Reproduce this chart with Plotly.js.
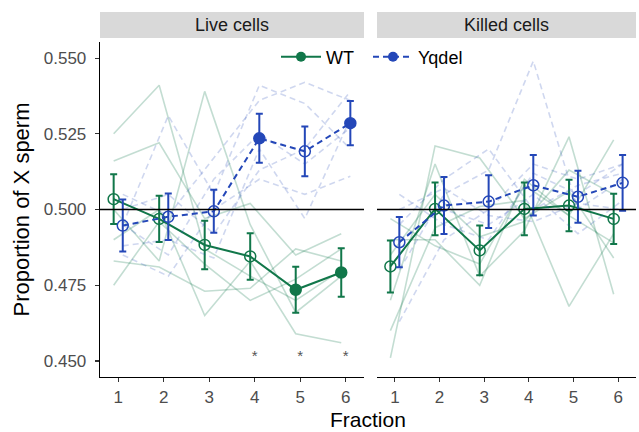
<!DOCTYPE html>
<html>
<head>
<meta charset="utf-8">
<script src="https://cdn.plot.ly/plotly-3.0.1.min.js"></script>
<style>html,body{margin:0;padding:0;background:#fff;}#chart{width:639px;height:432px;}</style>
</head>
<body>
<div id="chart"></div>
<script>
// ---- data ----
const fractions = [1, 2, 3, 4, 5, 6];
const panels = ["Live cells", "Killed cells"];
const genotypes = ["WT", "Yqdel"];

// Means and standard errors
const wtLiveMean = [0.5034, 0.4969, 0.4883, 0.4845, 0.4735, 0.4792];
const wtLiveSE = [0.0082, 0.0076, 0.0080, 0.0077, 0.0076, 0.0080];
const yqLiveMean = [0.4947, 0.4976, 0.4994, 0.5235, 0.5192, 0.5285];
const yqLiveSE = [0.0086, 0.0077, 0.0071, 0.0081, 0.0082, 0.0073];
const wtKilledMean = [0.4812, 0.5002, 0.4865, 0.5002, 0.5013, 0.4969];
const wtKilledSE = [0.0086, 0.0087, 0.0082, 0.0087, 0.0085, 0.0083];
const yqKilledMean = [0.4892, 0.5013, 0.5026, 0.5080, 0.5042, 0.5088];
const yqKilledSE = [0.0083, 0.0094, 0.0087, 0.0100, 0.0086, 0.0092];

// Significant (filled) points
const wtLiveSig = [false, false, false, false, true, true];
const yqLiveSig = [false, false, false, true, false, true];
const wtKilledSig = [false, false, false, false, false, false];
const yqKilledSig = [false, false, false, false, false, false];

// Star annotations (live panel)
const starFractions = [4, 5, 6];
const starLevel = 0.4513;

// Individual replicate lines
const wtLiveReps = [
  [0.525, 0.541, 0.487, 0.478, 0.470, 0.480],
  [0.500, 0.483, 0.539, 0.495, 0.466, 0.478],
  [0.516, 0.522, 0.497, 0.502, 0.485, 0.492],
  [0.483, 0.481, 0.473, 0.474, 0.487, 0.483],
  [0.490, 0.500, 0.465, 0.483, 0.459, 0.456],
  [0.475, 0.496, 0.482, 0.470, 0.477, 0.487]
];
const yqLiveReps = [
  [0.495, 0.531, 0.505, 0.541, 0.535, 0.520],
  [0.505, 0.498, 0.517, 0.536, 0.542, 0.536],
  [0.488, 0.490, 0.484, 0.520, 0.497, 0.530],
  [0.500, 0.505, 0.492, 0.513, 0.520, 0.539],
  [0.485, 0.478, 0.500, 0.510, 0.505, 0.511],
  [0.495, 0.485, 0.510, 0.525, 0.515, 0.527]
];
const wtKilledReps = [
  [0.451, 0.521, 0.517, 0.497, 0.506, 0.484],
  [0.470, 0.515, 0.478, 0.493, 0.524, 0.472],
  [0.490, 0.490, 0.475, 0.510, 0.498, 0.523],
  [0.460, 0.494, 0.501, 0.503, 0.468, 0.492],
  [0.485, 0.505, 0.491, 0.496, 0.513, 0.505],
  [0.497, 0.488, 0.482, 0.508, 0.498, 0.489]
];
const yqKilledReps = [
  [0.480, 0.505, 0.513, 0.549, 0.500, 0.510],
  [0.463, 0.490, 0.500, 0.515, 0.510, 0.515],
  [0.495, 0.510, 0.520, 0.500, 0.508, 0.512],
  [0.490, 0.500, 0.495, 0.505, 0.492, 0.503],
  [0.505, 0.495, 0.490, 0.512, 0.505, 0.515],
  [0.500, 0.507, 0.498, 0.496, 0.502, 0.500]
];

// ---- styles ----
const GREEN = "#11774a";
const BLUE = "#2447b8";
const GREEN_FAINT = "rgba(17,119,74,0.25)";
const BLUE_FAINT = "rgba(36,71,184,0.22)";
const DODGE = 0.1;
const FONT = "Liberation Sans, Arial, sans-serif";

const traces = [];
function addGroup(reps, mean, se, sig, xa, color, faint, dash, off) {
  const xs = fractions.map(f => f + off);
  reps.forEach(r => traces.push({
    x: xs, y: r, xaxis: xa, yaxis: "y", type: "scatter", mode: "lines",
    line: {color: faint, width: 1.6, dash: dash ? "6px,4px" : "solid"},
    showlegend: false, hoverinfo: "skip"
  }));
  traces.push({
    x: xs, y: mean, xaxis: xa, yaxis: "y", type: "scatter", mode: "lines+markers",
    line: {color: color, width: 2, dash: dash ? "6px,4px" : "solid"},
    marker: {color: color, size: 11, symbol: sig.map(s => s ? "circle" : "circle-open"),
             line: {color: color, width: 1.5}},
    error_y: {type: "data", array: se, visible: true, color: color, thickness: 2, width: 3.5},
    showlegend: false
  });
}
addGroup(wtLiveReps, wtLiveMean, wtLiveSE, wtLiveSig, "x", GREEN, GREEN_FAINT, false, -DODGE);
addGroup(yqLiveReps, yqLiveMean, yqLiveSE, yqLiveSig, "x", BLUE, BLUE_FAINT, true, DODGE);
addGroup(wtKilledReps, wtKilledMean, wtKilledSE, wtKilledSig, "x2", GREEN, GREEN_FAINT, false, -DODGE);
addGroup(yqKilledReps, yqKilledMean, yqKilledSE, yqKilledSig, "x2", BLUE, BLUE_FAINT, true, DODGE);

// legend entries (two legends, positioned separately)
traces.push({x: [null], y: [null], name: genotypes[0], type: "scatter", mode: "lines+markers", legend: "legend",
  line: {color: GREEN, width: 2}, marker: {color: GREEN, size: 10, symbol: "circle"}, showlegend: true});
traces.push({x: [null], y: [null], name: genotypes[1], type: "scatter", mode: "lines+markers", legend: "legend2",
  line: {color: BLUE, width: 2, dash: "6px,4px"}, marker: {color: BLUE, size: 10, symbol: "circle"}, showlegend: true});

// stars
traces.push({x: starFractions, y: starFractions.map(() => starLevel), xaxis: "x", yaxis: "y",
  type: "scatter", mode: "text", text: starFractions.map(() => "*"),
  textfont: {family: FONT, size: 15, color: "#555555"}, showlegend: false, hoverinfo: "skip"});

const W = 639, L = 100, R = 3, T = 42, B = 55;
const pw = W - L - R;
const leftDom = [0, (364 - L) / pw];
const rightDom = [(377 - L) / pw, 1];
const ph = 432 - T - B;
const stripY0 = 1 + (T - 38) / ph, stripY1 = 1 + (T - 12) / ph;

const xaxisBase = {
  range: [0.6, 6.4], tickvals: fractions, ticktext: fractions.map(String),
  showline: true, linecolor: "#000", linewidth: 1.3, ticks: "outside", ticklen: 4,
  tickcolor: "#333", tickwidth: 1.1, showgrid: false, zeroline: false,
  tickfont: {family: FONT, size: 17, color: "#4d4d4d"}, anchor: "y", fixedrange: true
};
const legendBase = {orientation: "h", xanchor: "left", y: 1 - (57 - T) / ph, yanchor: "middle",
  font: {family: FONT, size: 18, color: "#000"}, bgcolor: "rgba(0,0,0,0)", itemwidth: 40};

const layout = {
  width: 639, height: 432,
  margin: {l: L, r: R, t: T, b: B},
  paper_bgcolor: "#fff", plot_bgcolor: "#fff",
  font: {family: FONT},
  showlegend: true,
  legend: Object.assign({}, legendBase, {x: (276 - L) / pw}),
  legend2: Object.assign({}, legendBase, {x: (368 - L) / pw}),
  xaxis: Object.assign({}, xaxisBase, {domain: leftDom}),
  xaxis2: Object.assign({}, xaxisBase, {domain: rightDom}),
  yaxis: {
    range: [0.4447, 0.5553], tickvals: [0.45, 0.475, 0.5, 0.525, 0.55],
    ticktext: ["0.450", "0.475", "0.500", "0.525", "0.550"],
    showline: true, linecolor: "#000", linewidth: 1.3, ticks: "outside", ticklen: 4,
    tickcolor: "#333", tickwidth: 1.1, showgrid: false, zeroline: false, ticklabelstandoff: 5,
    tickfont: {family: FONT, size: 17, color: "#4d4d4d"},
    title: {text: "Proportion of X sperm", font: {family: FONT, size: 22, color: "#000"}, standoff: 8},
    fixedrange: true
  },
  shapes: [
    {type: "line", xref: "x domain", yref: "y", x0: 0, x1: 1, y0: 0.5, y1: 0.5, line: {color: "#000", width: 1.5}},
    {type: "line", xref: "x2 domain", yref: "y", x0: 0, x1: 1, y0: 0.5, y1: 0.5, line: {color: "#000", width: 1.5}},
    {type: "rect", xref: "paper", yref: "paper", x0: leftDom[0], x1: leftDom[1], y0: stripY0, y1: stripY1,
      fillcolor: "#d9d9d9", line: {width: 0}},
    {type: "rect", xref: "paper", yref: "paper", x0: rightDom[0], x1: rightDom[1], y0: stripY0, y1: stripY1,
      fillcolor: "#d9d9d9", line: {width: 0}}
  ],
  annotations: [
    {text: panels[0], xref: "paper", yref: "paper", x: (leftDom[0] + leftDom[1]) / 2, y: (stripY0 + stripY1) / 2,
      showarrow: false, xanchor: "center", yanchor: "middle", font: {family: FONT, size: 18, color: "#1a1a1a"}},
    {text: panels[1], xref: "paper", yref: "paper", x: (rightDom[0] + rightDom[1]) / 2, y: (stripY0 + stripY1) / 2,
      showarrow: false, xanchor: "center", yanchor: "middle", font: {family: FONT, size: 18, color: "#1a1a1a"}},
    {text: "Fraction", xref: "paper", yref: "paper", x: 0.5, y: -(420 - 377) / ph,
      showarrow: false, xanchor: "center", yanchor: "middle", font: {family: FONT, size: 21, color: "#000"}}
  ]
};

Plotly.newPlot("chart", traces, layout, {displayModeBar: false, staticPlot: true});
</script>
</body>
</html>
